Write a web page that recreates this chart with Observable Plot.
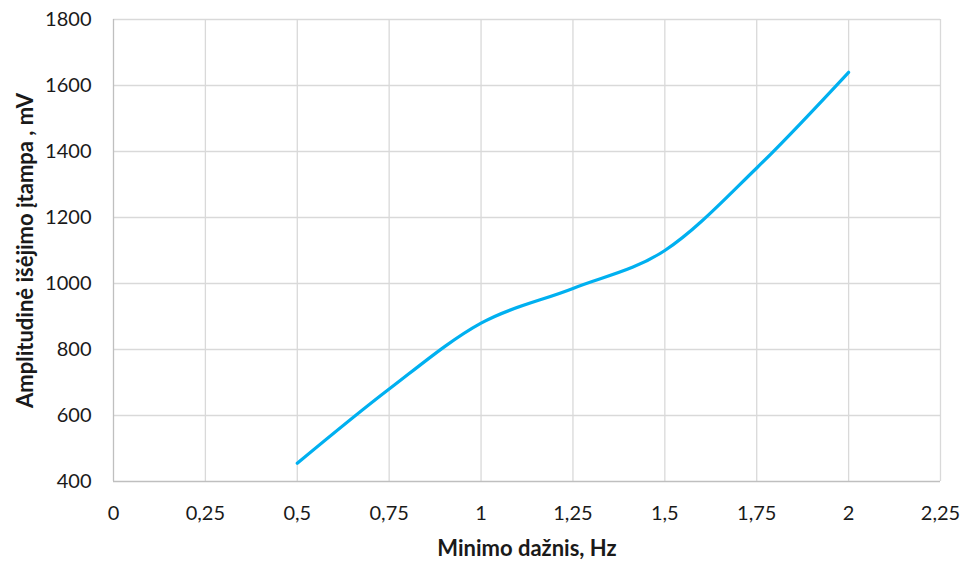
<!DOCTYPE html>
<html>
<head>
<meta charset="utf-8">
<script src="https://cdn.jsdelivr.net/npm/d3@7"></script>
<script src="https://cdn.jsdelivr.net/npm/@observablehq/plot@0.6"></script>
<style>
  html, body { margin: 0; padding: 0; background: #fff; }
  #chart svg { display: block; }
</style>
</head>
<body>
<div id="chart"></div>
<script>
// Output amplitude vs. minimum frequency
const freq = [0.5, 0.75, 1, 1.25, 1.5, 1.75, 2];
const amplitude = [455, 680, 880, 985, 1100, 1350, 1640];
const xTicks = [0, 0.25, 0.5, 0.75, 1, 1.25, 1.5, 1.75, 2, 2.25];
const yTicks = [400, 600, 800, 1000, 1200, 1400, 1600, 1800];
const xTitle = "Minimo dažnis, Hz";
const yTitle = "Amplitudinė išėjimo įtampa , mV";

const points = freq.map((f, i) => ({f, a: amplitude[i]}));
const fmt = d => String(d).replace(".", ",");

const chart = Plot.plot({
  width: 966,
  height: 562,
  marginLeft: 113,
  marginRight: 26,
  marginTop: 19,
  marginBottom: 81,
  style: {fontFamily: "Lato, 'Open Sans', sans-serif", fontSize: "20px", color: "#1a1a1a", background: "#fff"},
  x: {domain: [0, 2.25]},
  y: {domain: [400, 1800]},
  marks: [
    Plot.ruleY(yTicks.filter(d => d > 400), {stroke: "#d9d9d9", strokeWidth: 1.3}),
    Plot.ruleX(xTicks.filter(d => d > 0), {stroke: "#d9d9d9", strokeWidth: 1.3}),
    Plot.ruleX([0], {stroke: "#bfbfbf", strokeWidth: 1.3}),
    Plot.ruleY([400], {stroke: "#bfbfbf", strokeWidth: 1.3}),
    Plot.axisX(xTicks, {tickSize: 0, tickPadding: 24, tickFormat: fmt, label: null, fill: "#1a1a1a"}),
    Plot.axisY(yTicks, {tickSize: 0, tickPadding: 22, tickFormat: d => String(d), label: null, fill: "#1a1a1a"}),
    Plot.line(points, {x: "f", y: "a", curve: "cardinal", stroke: "#00b0f0", strokeWidth: 3.2}),
    Plot.text([xTitle], {frameAnchor: "bottom", dy: 74, lineAnchor: "bottom", textAnchor: "middle", fontWeight: "bold", fontSize: 22, fill: "#1a1a1a"}),
    Plot.text([yTitle], {frameAnchor: "left", dx: -88, rotate: -90, textAnchor: "middle", fontWeight: "bold", fontSize: 22, fill: "#1a1a1a"})
  ]
});
document.getElementById("chart").appendChild(chart);
</script>
</body>
</html>
